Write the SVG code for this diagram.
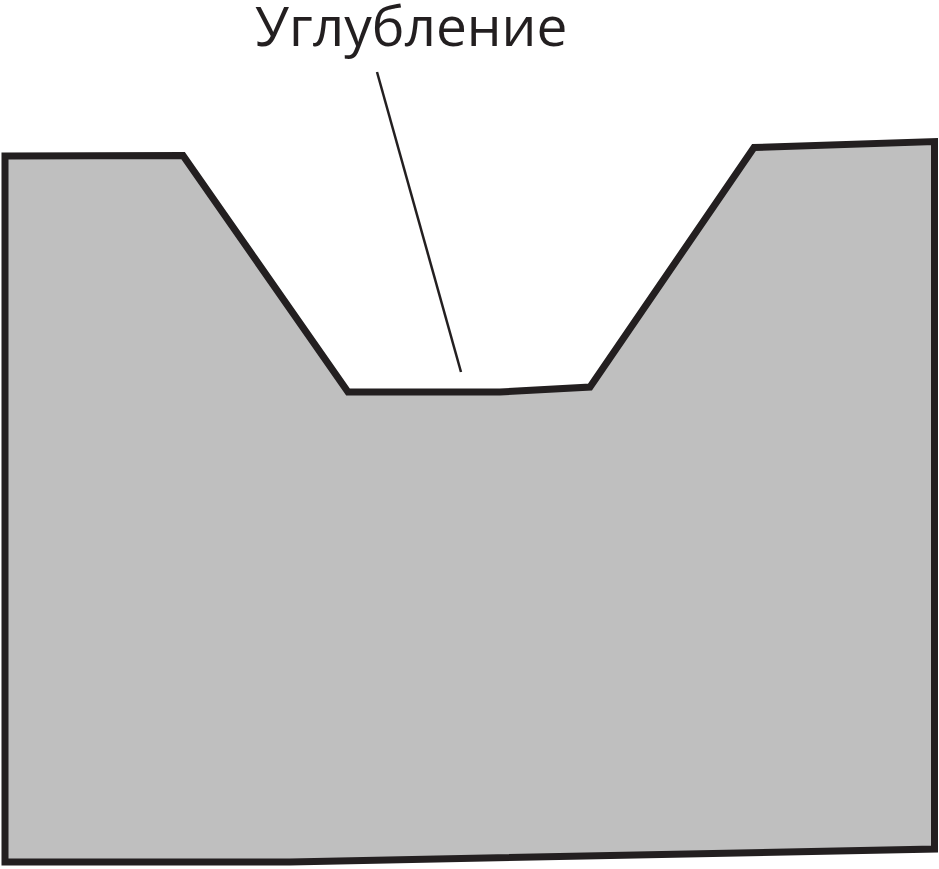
<svg xmlns="http://www.w3.org/2000/svg" width="939" height="869" viewBox="0 0 939 869">
<style>
.shape{fill:#bfbfbf;stroke:#231f20;stroke-width:7;stroke-linejoin:miter}
.lbl{font-family:"Open Sans","Noto Sans","DejaVu Sans",sans-serif;font-size:55px;fill:#231f20}
.lead{stroke:#231f20;stroke-width:2.5;fill:none}
</style>
<rect width="939" height="869" fill="#ffffff"/>
<g id="block">
<path class="shape" d="M5,156 L183,155.5 L348,392 L500,392 L590,387 L754,147.5 L934.5,141.5 L934.5,849 L290,862 L5,862 Z"/>
</g>
<g id="label">
<text class="lbl" x="255" y="46">Углубление</text>
</g>
<g id="connectors">
<line class="lead" x1="377" y1="72" x2="461" y2="372"/>
</g>
</svg>
